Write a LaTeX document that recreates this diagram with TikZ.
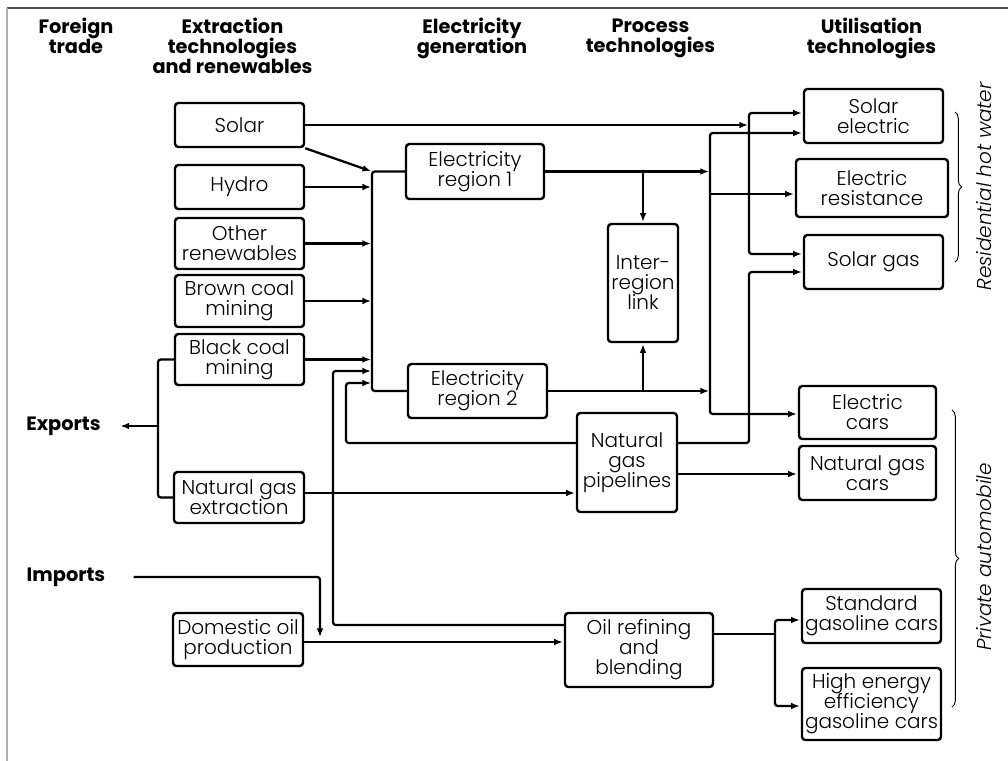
\documentclass[tikz,border=0pt]{standalone}
\usepackage{fontspec}
\setmainfont{Poppins}[UprightFont={* Light}, BoldFont={* Bold}, ItalicFont={* Light Italic}]
\usetikzlibrary{arrows.meta,decorations.pathreplacing}
\newcommand\bodyf{\fontsize{15}{15}\selectfont\lineskiplimit=-50pt\lineskip=0pt}
\newcommand\headf{\bfseries\fontsize{14.5}{15}\selectfont\lineskiplimit=-50pt\lineskip=0pt}
\newcommand\hs{\vphantom{l}}
\begin{document}
\begin{tikzpicture}[x=0.75pt,y=-0.75pt,
  box/.style={draw, line width=1.8pt, rounded corners=2.5pt, align=center, inner sep=0pt, font=\bodyf},
  sz/.style 2 args={minimum width=#1*0.75pt, minimum height=#2*0.75pt},
  ln/.style={line width=1.7pt, rounded corners=2pt},
  arr/.style={ln, -{Latex[length=6.5pt,width=5pt]}, shorten >=0.7pt},
  arrs/.style={ln, {Latex[length=6.5pt,width=5pt]}-{Latex[length=6.5pt,width=5pt]}, shorten >=0.7pt, shorten <=0.7pt},
  head/.style={align=center, font=\headf, inner sep=0pt},
  lab/.style={font=\itshape\bodyf, inner sep=0pt},
  brc/.style={decorate, decoration={brace, amplitude=5pt}, line width=0.7pt},
]
\useasboundingbox (0,0) rectangle (1008,761);
% frame
\draw[gray!60!black, line width=1.2pt] (7,8) -- (1008,8);
\draw[gray!60, line width=1.2pt] (7,8) -- (7,761);

% headings
\node[head,anchor=north] (hft) at (76,17.5) {\hs Foreign\\trade};
\node[head,anchor=north] (hext) at (232.5,17.5) {\hs Extraction\\technologies\\and renewables};
\node[head,anchor=north] (hgen) at (472,17.5) {\hs Electricity\\generation};
\node[head,anchor=north] (hproc) at (650.5,17.5) {\hs Process\\technologies};
\node[head,anchor=north] (hutil) at (871.5,17.5) {\hs Utilisation\\technologies};

% boxes
\node[box,sz={129}{44}] (solar) at (239.5,125) {Solar};
\node[box,sz={129}{44}] (hydro) at (239.5,187) {Hydro};
\node[box,sz={129}{51}] (other) at (239.5,243.5) {Other\\renewables};
\node[box,sz={129}{52}] (brown) at (239.5,301) {Brown coal\\mining};
\node[box,sz={129}{51}] (black) at (239.5,359.5) {Black coal\\mining};
\node[box,sz={130}{51}] (ngext) at (239,497.5) {Natural gas\\extraction};
\node[box,sz={130}{53}] (domoil) at (238,639.5) {Domestic oil\\production};
\node[box,sz={138}{55}] (elec1) at (475,171.5) {Electricity\\region 1};
\node[box,sz={139}{54}] (elec2) at (477.5,391) {Electricity\\region 2};
\node[box,sz={70}{118}] (link) at (643,283) {Inter-\\region\\link};
\node[box,sz={100}{99}] (ngpipe) at (627,462.5) {Natural\\gas\\pipelines};
\node[box,sz={148}{74}] (oilref) at (639,650) {Oil refining\\and\\blending};
\node[box,sz={139}{54}] (solarel) at (873.5,116) {Solar\\electric};
\node[box,sz={152}{58}] (elres) at (872,188) {Electric\\resistance};
\node[box,sz={139}{54}] (solargas) at (873.5,262) {Solar gas};
\node[box,sz={137}{53}] (elcars) at (867.5,412.5) {Electric\\cars};
\node[box,sz={137}{54}] (ngcars) at (867.5,473) {Natural gas\\cars};
\node[box,sz={139}{54}] (stdcars) at (871.5,616) {Standard\\gasoline cars};
\node[box,sz={139}{72}] (hecars) at (871.5,704) {High energy\\efficiency\\gasoline cars};

\node[head,inner xsep=14pt] (exports) at (63.5,426) {Exports};
\node[head,inner xsep=21pt] (imports) at (66,577) {Imports};

% electricity bus (left)
\coordinate (bA) at (372,171.5);
\coordinate (bB) at (372,391);
\draw[ln] (elec1.west) -- (bA) -- (bB) -- (elec2.west);
\draw[arr] (solar.south east) -- (bA);
\foreach \n in {hydro,other,brown,black} \draw[arr] (\n.east) -- (\n.east -| bA);
\coordinate (o1) at (333,625);
\coordinate (o2) at (333,371);
\draw[arr] (oilref.west |- o1) -- (o1) -- (o2) -- (o2 -| bA);
\coordinate (g1) at (346,443);
\coordinate (g2) at (346,383);
\draw[arr] (ngpipe.west |- g1) -- (g1) -- (g2) -- (g2 -| bA);

% electricity bus (right)
\coordinate (rT) at (710,133);
\coordinate (rB) at (710,414);
\coordinate (rM) at (710,194);
\draw[arrs] (solarel.west |- rT) -- (rT) -- (rB) -- (elcars.west |- rB);
\draw[arr] (rM) -- (elres.west |- rM);
\draw[arr] (elec1.east) -- (elec1.east -| rT);
\draw[arr] (elec2.east) -- (elec2.east -| rT);
\draw[arr] (elec1.east -| link.north) -- (link.north);
\draw[arr] (elec2.east -| link.south) -- (link.south);

% solar direct
\coordinate (sT) at (749,113);
\coordinate (sB) at (749,254);
\draw[arr] (solar.east) -- (solar.east -| sT);
\draw[arrs] (solarel.west |- sT) -- (sT) -- (sB) -- (solargas.west |- sB);

% natural gas
\coordinate (p1) at (749,443);
\coordinate (p2) at (749,272);
\draw[arr] (ngpipe.east |- p1) -- (p1) -- (p2) -- (solargas.west |- p2);
\coordinate (q1) at (740,474);
\draw[arr] (ngpipe.east |- q1) -- (ngcars.west |- q1);
\coordinate (n1) at (400,493);
\draw[arr] (ngext.east |- n1) -- (ngpipe.west |- n1);

% exports
\coordinate (x1) at (158,359.5);
\coordinate (x2) at (158,497.5);
\coordinate (x3) at (158,426);
\draw[ln] (black.west) -- (x1) -- (x2) -- (ngext.west);
\draw[arr] (x3) -- (exports.east);

% imports and oil
\coordinate (i1) at (320,577);
\coordinate (i2) at (320,638);
\draw[arr] (imports.east) -- (i1) -- (i2);
\coordinate (d1) at (400,642);
\draw[arr] (domoil.east |- d1) -- (oilref.west |- d1);
\coordinate (c0) at (775,634);
\coordinate (c1) at (775,620);
\coordinate (c2) at (775,706);
\draw[ln] (oilref.east |- c0) -- (c0);
\draw[arrs] (stdcars.west |- c1) -- (c1) -- (c2) -- (hecars.west |- c2);

% braces
\coordinate (r1) at (955,112);
\coordinate (r2) at (955,262);
\draw[brc] (r1) -- (r2);
\node[lab,rotate=90] (rhw) at (984,186.5) {Residential hot water};
\coordinate (a1) at (952,410);
\coordinate (a2) at (952,707);
\draw[brc] (a1) -- (a2);
\node[lab,rotate=90] (pa) at (984,557) {Private automobile};
\end{tikzpicture}
\end{document}
